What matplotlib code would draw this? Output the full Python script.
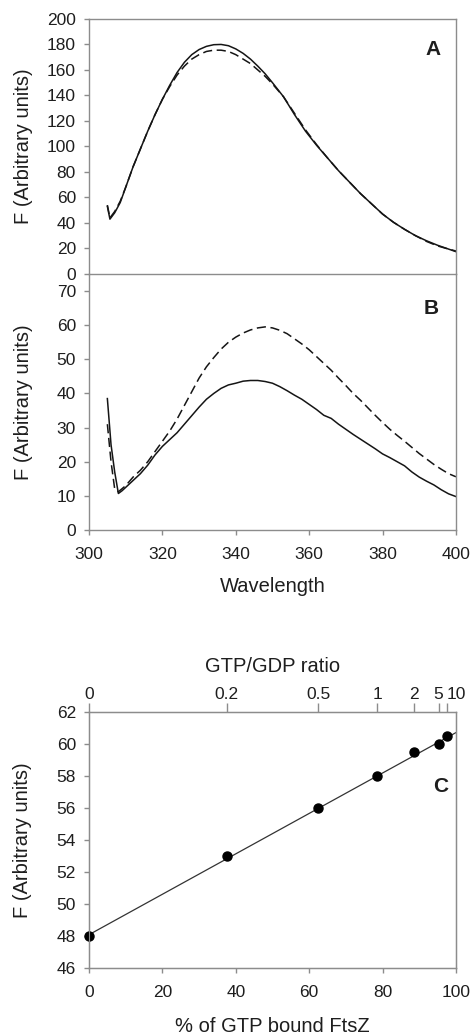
import matplotlib
matplotlib.use("Agg")
import matplotlib.pyplot as plt
import matplotlib.transforms as mtransforms

plt.rcParams['font.family'] = ['Liberation Sans', 'DejaVu Sans']

# Panel A: emission spectra (solid / dashed)
wl_a = [305, 305.7, 307, 308.5, 310, 312, 314, 316, 318, 320, 322, 324, 326, 328,
        330, 332, 334, 336, 338, 340, 342, 344, 346, 348, 350, 353, 356, 359,
        362, 365, 368, 371, 374, 377, 380, 383, 386, 389, 392, 395, 398, 400]
a_solid = [53, 43, 48, 56, 68, 84, 98, 112, 125, 137, 148, 158, 166, 172,
           176, 178.5, 179.8, 180, 179, 176.5, 173, 168.5, 163, 157, 150, 139, 125, 112,
           101, 91, 81, 72, 63, 55, 47, 40.5, 35, 30, 26, 22.5, 19.5, 17.5]
a_dash = [54, 44, 49, 57, 68, 84, 98, 112, 125, 137, 147, 156, 163, 168.5,
          172, 174.5, 175.5, 175.5, 174.5, 172, 168.5, 165, 160, 155, 149, 139, 126, 113,
          101.5, 91, 81, 72, 63, 55, 47, 40.5, 35, 30, 25.5, 22, 19.5, 18]

# Panel B
wl_b_solid = [305, 306, 307, 308, 309, 310, 312, 314, 316, 318, 320, 322, 324, 326,
              328, 330, 332, 334, 336, 338, 340, 342, 344, 346, 348, 350, 352, 354,
              356, 358, 360, 362, 364, 366, 368, 370, 372, 374, 376, 378, 380, 382,
              384, 386, 388, 390, 392, 394, 396, 398, 400]
b_solid = [38.5, 25, 17, 10.7, 11.5, 12.5, 14.5, 16.5, 19, 22, 24.5, 26.5, 28.5, 31,
           33.5, 36, 38.3, 40, 41.5, 42.5, 43, 43.6, 43.8, 43.8, 43.5, 43, 42, 40.8,
           39.5, 38.3, 36.8, 35.3, 33.6, 32.7, 31, 29.5, 28, 26.6, 25.2, 23.8, 22.3, 21.2,
           20, 18.8, 17, 15.5, 14.3, 13.2, 11.8, 10.6, 9.8]
wl_b_dash = [305, 306, 307, 308, 310, 312, 314, 316, 318, 320, 322, 324, 326, 328,
             330, 332, 334, 336, 338, 340, 342, 344, 346, 348, 350, 352, 354, 356,
             358, 360, 362, 364, 366, 368, 370, 372, 374, 376, 378, 380, 382, 384,
             386, 388, 390, 392, 394, 396, 398, 400]
b_dash = [31, 20, 12, 11.2, 13, 15.5, 17.5, 20, 23, 26, 29, 32.5, 36.5, 40.5,
          44.5, 47.8, 50.5, 53, 55, 56.5, 57.7, 58.6, 59.2, 59.5, 59.2, 58.5, 57.5, 56,
          54.5, 52.8, 50.8, 48.8, 46.8, 44.5, 42.3, 40, 38, 35.8, 33.6, 31.5, 29.5, 27.7,
          26, 24.2, 22.4, 20.8, 19.2, 17.8, 16.5, 15.6]

# Panel C
pct_gtp = [0, 37.5, 62.5, 78.5, 88.6, 95.5, 97.7]
f_c = [48.0, 53.0, 56.0, 58.0, 59.5, 60.0, 60.5]
fit_x = [0, 100]
fit_y = [48.1, 60.7]
ratio_labels = ['0', '0.2', '0.5', '1', '2', '5', '10']

spine_col = '#8c8c8c'
text_col = '#1e1e1e'
line_col = '#151515'
tick_fs = 12.5
lab_fs = 14.5
panel_fs = 15

fig = plt.figure(figsize=(4.71, 10.35), dpi=100)
axA = fig.add_axes([0.189, 0.7353, 0.779, 0.2464])
axB = fig.add_axes([0.189, 0.4879, 0.779, 0.2474])
axC = fig.add_axes([0.189, 0.0644, 0.779, 0.2479])
axB.patch.set_visible(False)

for ax in (axA, axB, axC):
    for s in ax.spines.values():
        s.set_color(spine_col)
        s.set_linewidth(1.0)
    ax.tick_params(colors=spine_col, labelcolor=text_col, labelsize=tick_fs,
                   direction='out', length=3.6, width=1.0)
    ax.tick_params(axis='y', pad=5.8)
    ax.tick_params(axis='x', pad=8.4)

axA.plot(wl_a, a_solid, color=line_col, lw=1.1)
axA.plot(wl_a, a_dash, color=line_col, lw=1.1, dashes=(6, 3))
axA.set_xlim(300, 400)
axA.set_ylim(0, 200)
axA.set_yticks(range(0, 201, 20))
axA.set_xticks([])
axA.set_ylabel('F (Arbitrary units)', fontsize=lab_fs, color=text_col)
axA.yaxis.set_label_coords(-0.153, 0.5)
axA.text(0.958, 0.859, 'A', transform=axA.transAxes, fontsize=panel_fs,
         fontweight='bold', ha='right', color=text_col)

axB.plot(wl_b_solid, b_solid, color=line_col, lw=1.1)
axB.plot(wl_b_dash, b_dash, color=line_col, lw=1.1, dashes=(6, 3))
axB.set_xlim(300, 400)
axB.set_ylim(0, 75)
axB.set_yticks(range(0, 71, 10))
axB.set_xticks(range(300, 401, 20))
axB.spines['top'].set_visible(False)
axB.set_ylabel('F (Arbitrary units)', fontsize=lab_fs, color=text_col)
axB.yaxis.set_label_coords(-0.153, 0.5)
axB.set_xlabel('Wavelength', fontsize=lab_fs, color=text_col)
axB.xaxis.set_label_coords(0.5, -0.183)
axB.text(0.953, 0.845, 'B', transform=axB.transAxes, fontsize=panel_fs,
         fontweight='bold', ha='right', color=text_col)

axC.plot(fit_x, fit_y, color='#333333', lw=0.9)
axC.plot(pct_gtp, f_c, 'o', color='black', ms=6.5, clip_on=False, zorder=3)
axC.set_xlim(0, 100)
axC.set_ylim(46, 62)
axC.set_yticks(range(46, 63, 2))
axC.set_xticks(range(0, 101, 20))
axC.set_ylabel('F (Arbitrary units)', fontsize=lab_fs, color=text_col)
axC.yaxis.set_label_coords(-0.155, 0.5)
axC.set_xlabel('% of GTP bound FtsZ', fontsize=lab_fs, color=text_col)
axC.xaxis.set_label_coords(0.5, -0.188)
axC.text(0.978, 0.687, 'C', transform=axC.transAxes, fontsize=panel_fs,
         fontweight='bold', ha='right', color=text_col)

top = axC.twiny()
top.set_xlim(0, 100)
top.set_xticks(pct_gtp, ratio_labels)
top.tick_params(colors=spine_col, labelcolor=text_col, labelsize=tick_fs,
                direction='out', length=6.5, width=1.0, pad=0.5)
for s in top.spines.values():
    s.set_color(spine_col)
top.set_xlabel('GTP/GDP ratio', fontsize=lab_fs, color=text_col)
top.xaxis.set_label_coords(0.5, 1.155)
# nudge the last two crowded labels apart, as in the original
lbls = top.get_xticklabels()
lbls[-1].set_transform(lbls[-1].get_transform() +
                       mtransforms.ScaledTranslation(6 / 72, 0, fig.dpi_scale_trans))
lbls[-2].set_transform(lbls[-2].get_transform() +
                       mtransforms.ScaledTranslation(-1 / 72, 0, fig.dpi_scale_trans))

fig.savefig('out.png', dpi=100)
